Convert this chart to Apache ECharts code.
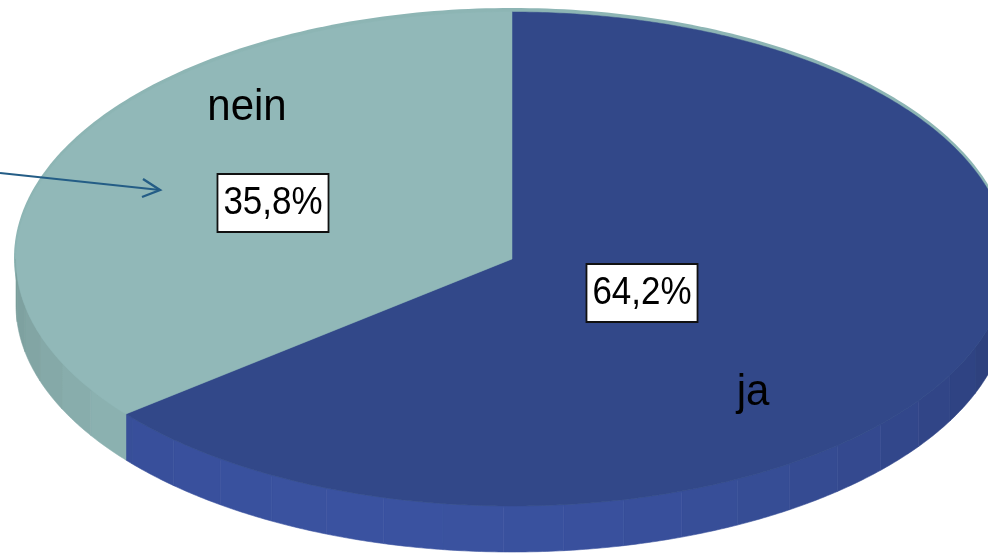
<!DOCTYPE html>
<html>
<head>
<meta charset="utf-8">
<script src="https://cdn.jsdelivr.net/npm/echarts@6/dist/echarts.min.js"></script>
<style>
html,body{margin:0;padding:0;background:#fff;}
#chart{width:988px;height:553px;}
</style>
</head>
<body>
<div id="chart"></div>
<script>
// ---- data ----
const categories = ['ja', 'nein'];
const values = [64.2, 35.8];

// ---- layout / style (not data) ----
const CX = 512, CY = 259, RX = 496, RY = 247, DEPTH = 46;
const topColors = ['#324889', '#91b8b8'];
const wallBase = [[58, 82, 160], [146, 186, 185]];
const nameLabelPos = [[753, 393], [247, 108]];
const pctLabelPos = [[642, 293], [273, 203]];
const FONT = '"Liberation Sans", Arial, Helvetica, sans-serif';

const total = values.reduce((a, b) => a + b, 0);
const startAngles = [];
let acc = 0;
values.forEach(v => { startAngles.push(acc / total * 360); acc += v; });

function pt(theta, dy) {
  const r = theta * Math.PI / 180;
  return [CX + RX * Math.sin(r), CY - RY * Math.cos(r) + (dy || 0)];
}
function shade(base, theta) {
  const f = Math.max(0.7, Math.min(1.02, 0.78 + 0.22 * Math.cos((theta - 195) * Math.PI / 180)));
  return 'rgb(' + base.map(c => Math.round(Math.min(255, c * f))).join(',') + ')';
}
function fmtPct(v) { return v.toFixed(1).replace('.', ',') + '%'; }

function renderItem(params, api) {
  const i = params.dataIndex;
  const v = api.value(0);
  const a0 = startAngles[i];
  const a1 = a0 + v / total * 360;
  const children = [];
  // walls (front half only: 90..270)
  const w0 = Math.max(a0, 90), w1 = Math.min(a1, 270);
  if (w1 > w0) {
    const step = 7;
    for (let t = w0; t < w1; t += step) {
      const t1 = Math.min(t + step, w1);
      const pts = [];
      for (let s = t; s <= t1 + 1e-9; s += 0.5) pts.push(pt(Math.min(s, t1)));
      pts.push(pt(t1));
      for (let s = t1; s >= t - 1e-9; s -= 0.5) pts.push(pt(Math.max(s, t), DEPTH));
      pts.push(pt(t, DEPTH));
      const col = shade(wallBase[i], (t + t1) / 2);
      children.push({ type: 'polygon', shape: { points: pts }, style: { fill: col, stroke: col, lineWidth: 0.6 } });
    }
  }
  // top face
  const top = [[CX, CY]];
  for (let s = a0; s <= a1 + 1e-9; s += 0.5) top.push(pt(Math.min(s, a1)));
  top.push(pt(a1));
  children.push({ type: 'polygon', shape: { points: top }, style: { fill: topColors[i], stroke: topColors[i], lineWidth: 0.5 } });
  // labels
  children.push({
    type: 'text', x: nameLabelPos[i][0], y: nameLabelPos[i][1], scaleY: 1.06,
    style: { text: categories[i], fill: '#000', fontSize: 42, fontFamily: FONT, align: 'center', verticalAlign: 'middle' }
  });
  children.push({
    type: 'text', x: pctLabelPos[i][0], y: pctLabelPos[i][1], scaleY: 1.12,
    style: {
      text: fmtPct(v), fill: '#000', fontSize: 35, fontFamily: FONT, align: 'center', verticalAlign: 'middle',
      backgroundColor: '#fff', borderColor: '#111', borderWidth: 1.8, padding: [8, 5, 7, 5]
    }
  });
  return { type: 'group', children: children };
}

// thin back rim (teal) behind the top face
const rimPts = [];
for (let s = 0; s < 360; s += 1) {
  const r = s * Math.PI / 180;
  rimPts.push([CX + (RX + 2) * Math.sin(r), CY - 1 - (RY + 3) * Math.cos(r)]);
}

const chart = echarts.init(document.getElementById('chart'), null, { renderer: 'canvas' });
chart.setOption({
  animation: false,
  backgroundColor: '#fff',
  graphic: [
    { type: 'polygon', z: 0, shape: { points: rimPts }, style: { fill: '#8db5b4' } },
    { type: 'polyline', z: 10, shape: { points: [[0, 173], [160, 190]] }, style: { stroke: '#245d86', lineWidth: 2.2, fill: null } },
    { type: 'polyline', z: 10, shape: { points: [[143, 179], [160, 190], [142, 197]] }, style: { stroke: '#245d86', lineWidth: 2.4, fill: null } }
  ],
  series: [{
    type: 'custom',
    coordinateSystem: 'none',
    z: 2,
    renderItem: renderItem,
    data: values.map(v => [v])
  }]
});
</script>
</body>
</html>
